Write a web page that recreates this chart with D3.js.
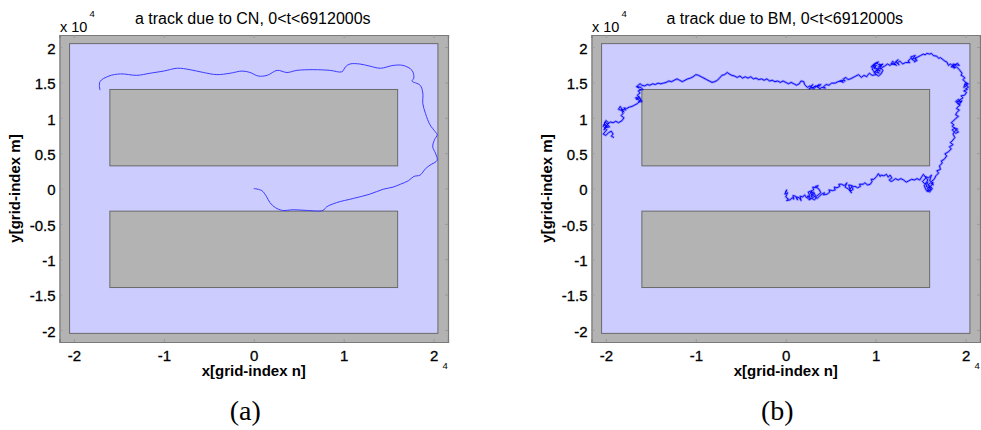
<!DOCTYPE html>
<html><head><meta charset="utf-8">
<script src="https://cdn.jsdelivr.net/npm/d3@7"></script>
<style>body{margin:0;background:#fff}svg{display:block}</style>
</head><body>
<script>
// ---- data (units of 10^4 grid index) ----
const xTicks = [-2, -1, 0, 1, 2];
const yTicks = [-2, -1.5, -1, -0.5, 0, 0.5, 1, 1.5, 2];
const titles = ["a track due to CN, 0<t<6912000s", "a track due to BM, 0<t<6912000s"];
const panelLabels = ["(a)", "(b)"];
const xLabel = "x[grid-index n]";
const yLabel = "y[grid-index m]";
const domainHalf = 2.048;
const obstacles = [[-1.6, 1.6, 0.32, 1.4], [-1.6, 1.6, -1.4, -0.32]];

const cnTrack = [[0.00,0.00],[0.09,-0.03],[0.14,-0.11],[0.18,-0.20],[0.24,-0.27],[0.32,-0.31],[0.44,-0.30],[0.59,-0.31],[0.77,-0.31],[0.81,-0.26],[0.92,-0.20],[1.11,-0.14],[1.29,-0.08],[1.44,-0.01],[1.55,0.02],[1.63,0.06],[1.72,0.11],[1.78,0.17],[1.85,0.19],[1.91,0.28],[1.96,0.33],[2.04,0.40],[2.02,0.50],[1.99,0.59],[2.01,0.69],[2.04,0.76],[2.02,0.80],[1.96,0.90],[1.91,1.06],[1.88,1.20],[1.88,1.35],[1.85,1.46],[1.76,1.52],[1.78,1.56],[1.76,1.67],[1.66,1.74],[1.55,1.74],[1.41,1.70],[1.29,1.73],[1.18,1.76],[1.07,1.76],[1.02,1.72],[0.98,1.65],[0.85,1.67],[0.66,1.68],[0.48,1.67],[0.37,1.64],[0.26,1.67],[0.15,1.60],[0.05,1.59],[-0.04,1.64],[-0.13,1.66],[-0.26,1.63],[-0.41,1.61],[-0.56,1.64],[-0.71,1.68],[-0.85,1.70],[-1.00,1.66],[-1.15,1.63],[-1.30,1.60],[-1.48,1.62],[-1.61,1.59],[-1.71,1.51],[-1.71,1.39]];

const bmTrack = [[0.00,-0.05],[0.01,-0.02],[-0.01,-0.08],[0.02,-0.06],[0.00,-0.12],[0.03,-0.15],[0.01,-0.17],[0.05,-0.16],[0.07,-0.13],[0.09,-0.15],[0.08,-0.10],[0.11,-0.11],[0.13,-0.16],[0.12,-0.12],[0.15,-0.13],[0.17,-0.17],[0.16,-0.11],[0.19,-0.12],[0.21,-0.09],[0.23,-0.13],[0.25,-0.10],[0.27,-0.15],[0.29,-0.11],
[0.31,-0.07],[0.28,-0.09],[0.30,-0.13],[0.33,-0.10],[0.31,-0.05],[0.27,-0.07],[0.29,-0.03],[0.25,-0.05],[0.27,-0.11],[0.24,-0.13],[0.26,-0.16],[0.29,-0.14],[0.32,-0.16],[0.34,-0.13],[0.31,-0.10],[0.28,-0.05],[0.31,-0.02],[0.30,0.02],[0.34,0.01],[0.36,0.04],[0.33,0.03],[0.37,-0.01],[0.39,-0.06],[0.36,-0.09],[0.33,-0.12],[0.35,-0.14],[0.38,-0.10],[0.40,-0.08],[0.43,-0.06],[0.42,-0.09],[0.46,-0.08],[0.49,-0.05],[0.48,-0.02],[0.52,-0.03],[0.55,-0.02],[0.54,0.02],[0.57,0.01],[0.60,0.03],[0.59,0.06],[0.62,0.06],[0.65,0.04],[0.68,0.08],
[0.66,0.02],[0.70,-0.01],[0.73,-0.06],[0.71,-0.02],[0.74,0.04],[0.70,0.05],[0.72,-0.04],[0.75,-0.01],[0.73,0.02],[0.77,0.03],[0.80,0.01],[0.83,0.03],[0.82,0.06],[0.86,0.06],[0.88,0.08],[0.91,0.05],[0.94,0.06],[0.96,0.10],[0.95,0.13],[0.98,0.13],[1.01,0.17],[1.03,0.21],[1.05,0.17],[1.06,0.19],[1.09,0.18],[1.12,0.20],[1.14,0.16],[1.16,0.19],[1.18,0.15],[1.15,0.12],[1.17,0.10],[1.19,0.11],[1.22,0.14],[1.25,0.12],[1.28,0.14],[1.31,0.12],[1.34,0.09],[1.37,0.11],[1.40,0.13],[1.43,0.12],[1.46,0.14],[1.49,0.12],[1.51,0.16],[1.53,0.20],[1.56,0.15],[1.52,0.10],[1.55,0.06],
[1.58,0.09],[1.56,0.03],[1.60,0.01],[1.57,-0.04],[1.61,-0.02],[1.59,0.04],[1.63,0.00],[1.60,-0.05],[1.56,-0.02],[1.54,0.04],[1.58,0.12],[1.55,0.17],[1.59,0.15],[1.62,0.19],[1.60,0.11],[1.64,0.08],[1.61,0.03],[1.57,0.00],[1.60,-0.03],[1.62,0.02],[1.58,0.05],[1.61,0.08],[1.64,0.05],[1.62,0.10],[1.65,0.13],[1.67,0.18],[1.70,0.22],[1.68,0.25],[1.72,0.27],[1.71,0.32],[1.74,0.36],[1.73,0.39],[1.76,0.41],[1.79,0.46],[1.77,0.49],[1.81,0.52],[1.84,0.56],[1.82,0.59],[1.86,0.62],[1.83,0.65],[1.85,0.67],[1.88,0.72],[1.86,0.77],
[1.88,0.81],[1.91,0.84],[1.87,0.86],[1.92,0.80],[1.89,0.78],[1.85,0.83],[1.88,0.85],[1.85,0.88],[1.87,0.90],[1.84,0.93],[1.86,0.95],[1.89,0.99],[1.92,1.02],[1.89,1.04],[1.90,1.07],[1.93,1.11],[1.90,1.13],[1.91,1.15],[1.94,1.18],
[1.91,1.20],[1.95,1.22],[1.92,1.26],[1.89,1.23],[1.93,1.19],[1.96,1.24],[1.90,1.22],[1.93,1.25],[1.97,1.28],[1.95,1.31],[1.99,1.32],[2.01,1.36],[1.98,1.38],[2.02,1.40],[2.00,1.41],[2.03,1.43],[2.02,1.45],[1.99,1.47],[2.03,1.48],[2.00,1.50],[2.02,1.46],[1.98,1.43],[2.00,1.50],[1.97,1.54],[1.99,1.56],[1.98,1.58],[1.95,1.60],[1.96,1.63],[1.93,1.68],[1.90,1.72],
[1.87,1.70],[1.89,1.75],[1.85,1.74],[1.88,1.71],[1.84,1.72],[1.91,1.77],[1.93,1.74],[1.86,1.76],[1.86,1.73],[1.83,1.76],[1.81,1.74],[1.79,1.79],[1.77,1.80],[1.75,1.82],[1.72,1.85],[1.70,1.84],[1.68,1.87],[1.64,1.88],[1.62,1.91],[1.60,1.90],[1.57,1.91],[1.55,1.89],[1.53,1.90],[1.50,1.88],[1.47,1.86],[1.44,1.84],
[1.46,1.81],[1.43,1.79],[1.45,1.85],[1.41,1.83],[1.44,1.88],[1.39,1.86],[1.42,1.81],[1.39,1.84],[1.36,1.80],[1.38,1.78],[1.33,1.78],[1.30,1.76],[1.27,1.80],[1.24,1.78],
[1.26,1.75],[1.22,1.79],[1.25,1.82],[1.21,1.77],[1.23,1.74],[1.19,1.80],[1.17,1.76],[1.22,1.75],[1.19,1.77],[1.16,1.74],[1.13,1.76],[1.10,1.73],[1.07,1.71],[1.04,1.76],
[1.07,1.74],[1.03,1.72],[1.06,1.69],[1.02,1.70],[1.05,1.66],[1.01,1.67],[1.04,1.63],[0.99,1.65],[1.03,1.68],[0.98,1.70],[1.01,1.74],[0.97,1.73],[1.00,1.77],[1.03,1.79],[0.99,1.75],[0.96,1.69],[1.00,1.62],[1.03,1.59],[1.06,1.62],[1.08,1.67],[1.05,1.72],[1.08,1.76],[1.04,1.74],[1.01,1.78],[0.98,1.76],[0.95,1.72],[0.99,1.72],[1.02,1.68],[0.98,1.64],[1.01,1.61],[0.96,1.60],[0.93,1.63],[0.91,1.60],[0.90,1.58],[0.87,1.60],[0.84,1.57],[0.81,1.61],[0.78,1.59],[0.75,1.57],[0.72,1.55],[0.69,1.54],
[0.67,1.57],[0.64,1.55],[0.66,1.52],[0.62,1.53],[0.64,1.50],[0.60,1.52],[0.62,1.52],[0.58,1.51],[0.55,1.49],[0.51,1.49],[0.48,1.46],[0.45,1.47],[0.42,1.44],
[0.44,1.42],[0.40,1.43],[0.38,1.41],[0.35,1.44],[0.37,1.47],[0.33,1.43],[0.31,1.41],[0.28,1.44],[0.30,1.47],[0.26,1.41],[0.39,1.47],[0.36,1.43],[0.33,1.45],[0.30,1.42],[0.27,1.45],[0.24,1.43],[0.21,1.47],[0.20,1.51],[0.17,1.52],[0.15,1.48],[0.12,1.46],[0.09,1.48],[0.06,1.50],[0.03,1.48],[0.00,1.50],[-0.03,1.52],[-0.06,1.50],[-0.09,1.52],[-0.12,1.51],[-0.15,1.53],[-0.18,1.52],[-0.21,1.55],[-0.24,1.53],[-0.27,1.55],[-0.30,1.54],[-0.33,1.56],[-0.36,1.55],[-0.39,1.58],[-0.42,1.56],[-0.45,1.58],[-0.48,1.56],[-0.51,1.59],[-0.54,1.57],[-0.57,1.59],[-0.60,1.60],[-0.63,1.62],[-0.65,1.64],[-0.68,1.61],[-0.71,1.60],[-0.73,1.57],[-0.76,1.53],[-0.79,1.51],[-0.82,1.50],[-0.85,1.52],[-0.88,1.54],[-0.91,1.56],[-0.94,1.58],[-0.97,1.60],[-1.00,1.61],[-1.03,1.58],[-1.06,1.56],[-1.09,1.55],[-1.12,1.53],[-1.15,1.51],[-1.18,1.53],[-1.21,1.55],[-1.24,1.53],[-1.27,1.51],[-1.30,1.52],[-1.33,1.50],[-1.36,1.49],[-1.39,1.48],[-1.42,1.49],[-1.45,1.47],[-1.48,1.48],[-1.51,1.46],[-1.54,1.47],[-1.57,1.45],[-1.60,1.46],
[-1.62,1.48],[-1.65,1.45],[-1.63,1.42],[-1.66,1.44],[-1.61,1.43],[-1.59,1.40],[-1.63,1.39],[-1.61,1.40],[-1.64,1.38],[-1.62,1.35],[-1.65,1.32],[-1.63,1.29],[-1.66,1.26],[-1.62,1.27],[-1.60,1.23],[-1.64,1.22],[-1.61,1.25],[-1.63,1.30],[-1.67,1.28],[-1.62,1.24],[-1.65,1.20],[-1.68,1.18],[-1.71,1.16],[-1.74,1.15],[-1.77,1.13],[-1.80,1.14],
[-1.78,1.11],[-1.83,1.12],[-1.80,1.08],[-1.84,1.16],[-1.86,1.12],[-1.82,1.10],[-1.81,1.06],[-1.83,1.03],[-1.80,1.00],[-1.82,0.96],[-1.86,0.93],[-1.89,0.95],[-1.92,0.93],[-1.95,0.94],[-1.98,0.91],[-2.01,0.94],
[-2.02,0.90],[-1.98,0.88],[-2.01,0.86],[-1.96,0.87],[-1.99,0.92],[-2.03,0.88],[-2.00,0.96],[-1.97,0.93],[-2.02,0.83],[-1.99,0.89],[-2.02,0.86],[-1.99,0.83],[-2.01,0.80],[-2.03,0.77],[-2.00,0.75],[-1.97,0.79],[-1.94,0.81],[-1.92,0.77],[-1.94,0.74],[-1.91,0.72]];

const tracks = [cnTrack, bmTrack];

// ---- drawing ----
const W = 981, H = 430;
const sans = "'Liberation Sans', Arial, Helvetica, sans-serif";
const svg = d3.select("body").append("svg").attr("width", W).attr("height", H)
  .style("font-family", sans);

const offsets = [0, 532];

offsets.forEach((ox, i) => {
  const x = d3.scaleLinear().domain([-2.16, 2.16]).range([59.5 + ox, 448 + ox]);
  const y = d3.scaleLinear().domain([-2.17, 2.17]).range([342, 35]);
  const g = svg.append("g");

  // axes area (gray)
  g.append("rect")
    .attr("x", x(-2.16)).attr("y", y(2.17))
    .attr("width", x(2.16) - x(-2.16)).attr("height", y(-2.17) - y(2.17))
    .attr("fill", "#b3b3b3").attr("stroke", "none");

  // domain (light blue)
  g.append("rect")
    .attr("x", x(-domainHalf)).attr("y", y(domainHalf))
    .attr("width", x(domainHalf) - x(-domainHalf)).attr("height", y(-domainHalf) - y(domainHalf))
    .attr("fill", "#ccccff").attr("stroke", "#6a6a6a").attr("stroke-width", 1);

  // obstacles
  g.selectAll("rect.obs").data(obstacles).join("rect").attr("class", "obs")
    .attr("x", d => x(d[0])).attr("y", d => y(d[3]))
    .attr("width", d => x(d[1]) - x(d[0])).attr("height", d => y(d[2]) - y(d[3]))
    .attr("fill", "#b3b3b3").attr("stroke", "#6a6a6a").attr("stroke-width", 1);

  // track
  const line = d3.line().x(d => x(d[0])).y(d => y(d[1]))
    .curve(i === 0 ? d3.curveCatmullRom : d3.curveLinear);
  if (i === 1) {
    g.append("path").datum(tracks[i]).attr("d", line)
      .attr("fill", "none").attr("stroke", "#0000ff").attr("stroke-opacity", 0.28)
      .attr("stroke-width", 2.4).attr("stroke-linejoin", "round");
  }
  g.append("path").datum(tracks[i]).attr("d", line)
    .attr("fill", "none")
    .attr("stroke", i === 0 ? "#3c3cff" : "#0000ff")
    .attr("stroke-width", i === 0 ? 1 : 0.9)
    .attr("stroke-linejoin", "round");

  // axes
  const fmt = d => String(d);
  const bottom = g.append("g").attr("transform", `translate(0,${y(-2.17)})`)
    .call(d3.axisBottom(x).tickValues(xTicks).tickFormat(fmt).tickSize(-3).tickPadding(8));
  const left = g.append("g").attr("transform", `translate(${x(-2.16)},0)`)
    .call(d3.axisLeft(y).tickValues(yTicks).tickFormat(fmt).tickSize(-3).tickPadding(4));
  const top = g.append("g").attr("transform", `translate(0,${y(2.17)})`)
    .call(d3.axisTop(x).tickValues(xTicks).tickFormat("").tickSize(-3));
  const right = g.append("g").attr("transform", `translate(${x(2.16)},0)`)
    .call(d3.axisRight(y).tickValues(yTicks).tickFormat("").tickSize(-3));
  [bottom, left, top, right].forEach(a => {
    a.select(".domain").attr("stroke", "#7a7a7a").attr("stroke-width", 1.2);
    a.selectAll(".tick line").attr("stroke", "#9a9a9a");
    a.selectAll("text").attr("font-family", sans).attr("font-size", 15).attr("fill", "#000")
      .attr("stroke", "#000").attr("stroke-width", 0.3);
  });
  left.selectAll("text").attr("dy", "0.42em");

  // title
  g.append("text").attr("x", x(0) - 1).attr("y", 23.5).attr("text-anchor", "middle")
    .attr("font-size", 16).attr("fill", "#000").text(titles[i]);

  // y multiplier x 10^4
  g.append("text").attr("x", x(-2.16) + 0.5).attr("y", 31.7).attr("font-size", 14.5).text("x 10");
  g.append("text").attr("x", x(-2.16) + 30).attr("y", 17.3).attr("font-size", 9.5).text("4");
  // x multiplier exponent
  g.append("text").attr("x", x(2.16) - 5.5).attr("y", 368.7).attr("font-size", 9.5).text("4");

  // axis labels
  g.append("text").attr("x", x(0)).attr("y", 376).attr("text-anchor", "middle")
    .attr("font-size", 15).attr("font-weight", "bold").text(xLabel);
  g.append("text").attr("transform", `translate(${20.3 + ox},${y(0)}) rotate(-90)`)
    .attr("text-anchor", "middle").attr("font-size", 15).attr("font-weight", "bold").text(yLabel);

  // panel label
  g.append("text").attr("x", x(0) - 8.5).attr("y", 420).attr("text-anchor", "middle")
    .attr("font-family", "'Liberation Serif', 'DejaVu Serif', serif").attr("font-size", 28)
    .text(panelLabels[i]);
});
</script>
</body></html>
